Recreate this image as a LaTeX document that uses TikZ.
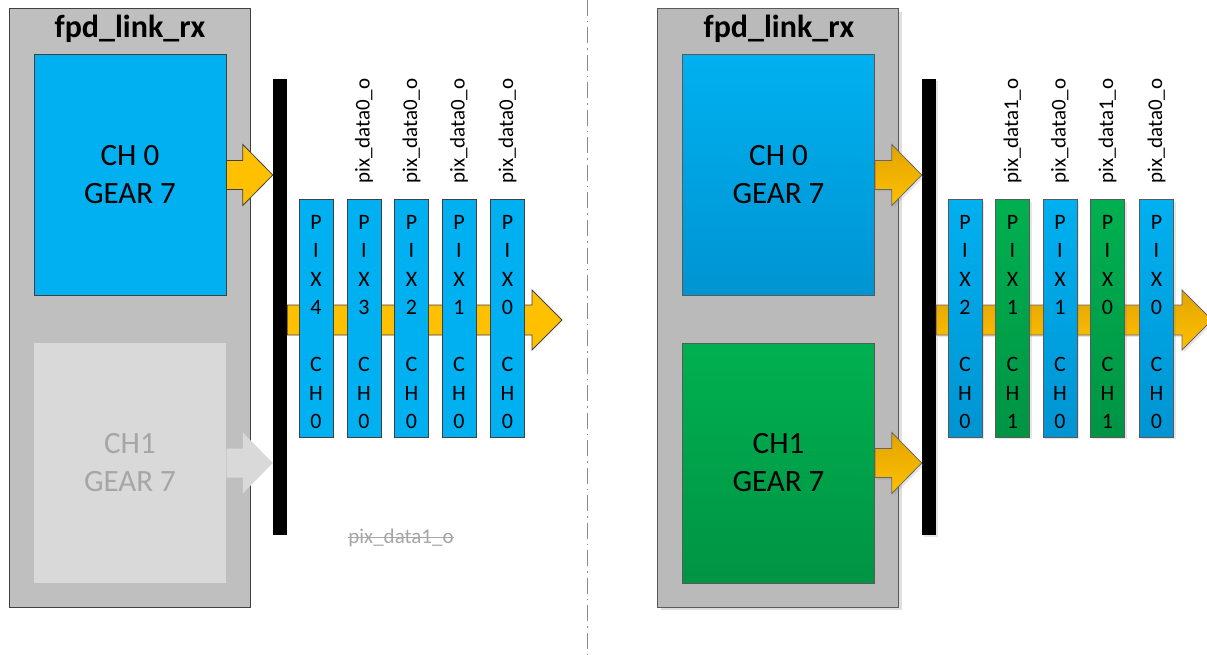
\documentclass[tikz,border=0pt]{standalone}
\usepackage{fontspec}
\setmainfont{Carlito}
\usetikzlibrary{calc,shadows}
\definecolor{boxgray}{HTML}{BFBFBF}
\definecolor{boxgrayR}{HTML}{BABABA}
\definecolor{cblue}{HTML}{00B0F0}
\definecolor{cblueD}{HTML}{0094D2}
\definecolor{cgreen}{HTML}{00B050}
\definecolor{cgreenD}{HTML}{009444}
\definecolor{cyel}{HTML}{FFC000}
\definecolor{cyelD}{HTML}{E2A400}
\definecolor{ghost}{HTML}{D9D9D9}
\definecolor{ghosttxt}{HTML}{A6A6A6}
\definecolor{edge}{HTML}{404040}
\definecolor{sep}{HTML}{8C8C8C}
% #1 start, #2 tip, #3 style, #4 shaft half, #5 head half, #6 head length
\newcommand\blockarrow[6]{%
  \path[#3] ($(#1)+(0,-#4)$) -- ($(#2)+(-#6,-#4)$) -- ($(#2)+(-#6,-#5)$) -- (#2)
    -- ($(#2)+(-#6,#5)$) -- ($(#2)+(-#6,#4)$) -- ($(#1)+(0,#4)$) -- cycle;}
% #1 name, #2 x, #3 style, #4 pix number, #5 channel
\newcommand\pixbox[5]{%
  \node[#3] (#1) at (#2,318.5) {};
  \node[pixtxt] (#1t) at (#2,322) {P\\I\\X\\#4\\[28.5pt]C\\H\\#5};}
\begin{document}
\begin{tikzpicture}[x=1pt,y=-1pt,
  outerbox/.style={draw=edge, line width=1pt, fill=boxgray, minimum width=241pt, minimum height=598pt, inner sep=0pt},
  outerboxR/.style={outerbox, draw=black!65, fill=boxgrayR, drop shadow={shadow xshift=3pt, shadow yshift=-3pt, opacity=0.25}},
  title/.style={font=\bfseries\fontsize{32}{38}\selectfont, inner sep=0pt},
  chbox/.style={draw=edge, line width=1pt, minimum width=192pt, minimum height=240pt, inner sep=0pt, align=center, font=\fontsize{31}{38}\selectfont},
  pixL/.style={draw=edge, line width=1pt, fill=cblue, minimum width=34pt, minimum height=237pt, inner sep=0pt},
  pixBR/.style={draw=black!65, line width=1pt, top color=cblue, bottom color=cblueD, minimum width=34pt, minimum height=237pt, inner sep=0pt, drop shadow={shadow xshift=2pt, shadow yshift=-2pt, opacity=0.2}},
  pixGR/.style={pixBR, top color=cgreen, bottom color=cgreenD},
  pixtxt/.style={align=center, inner sep=0pt, font=\fontsize{22}{28.5}\selectfont},
  lbl/.style={rotate=90, anchor=west, inner sep=0pt, font=\fontsize{21}{25}\selectfont},
  barbox/.style={fill=black, minimum width=14pt, minimum height=456pt, inner sep=0pt},
  yarrow/.style={fill=cyel, draw=edge, line width=0.8pt},
  yarrowR/.style={top color=cyelD, bottom color=cyel, draw=black!60, line width=0.8pt, drop shadow={shadow xshift=2pt, shadow yshift=-2pt, opacity=0.2}},
  garrow/.style={fill=ghost},
  sepline/.style={draw=sep, line width=1pt, dash pattern=on 16pt off 5pt on 1.5pt off 5pt}
]
\useasboundingbox (0,0) rectangle (1207,655);

% ---------- separator ----------
\coordinate (s1) at (587,0);
\coordinate (s2) at (587,655);
\draw[sepline] (s1) -- (s2);

% ---------- left panel ----------
\node[outerbox] (L) at (129.5,308) {};
\node[title] (Lt) at (130,29) {fpd\_link\_rx};
\node[chbox, fill=cblue] (L0) at (130,175) {CH 0\\GEAR 7};
\node[chbox, draw=none, fill=ghost, text=ghosttxt] (L1) at (130,463) {CH1\\GEAR 7};
\node[barbox] (Lb) at (280,307) {};
\blockarrow{L0.east}{Lb.west |- L0.east}{yarrow}{14.5}{30.5}{30}
\blockarrow{L1.east}{Lb.west |- L1.east}{garrow}{14.5}{30.5}{30}
\coordinate (hL) at (562,320);
\blockarrow{Lb.east |- hL}{hL}{yarrow}{15}{30}{30}
\pixbox{pL1}{316}{pixL}{4}{0}
\pixbox{pL2}{364}{pixL}{3}{0}
\pixbox{pL3}{411.5}{pixL}{2}{0}
\pixbox{pL4}{459}{pixL}{1}{0}
\pixbox{pL5}{507.5}{pixL}{0}{0}
\node[lbl] (lL2) at (364,184) {pix\_data0\_o};
\node[lbl] (lL3) at (411.5,184) {pix\_data0\_o};
\node[lbl] (lL4) at (459,184) {pix\_data0\_o};
\node[lbl] (lL5) at (507.5,184) {pix\_data0\_o};
\node[inner sep=0pt, text=ghosttxt, font=\fontsize{21}{25}\selectfont] (gs) at (401,538) {pix\_data1\_o};
\draw[ghosttxt, line width=0.9pt] ($(gs.west)+(0,-1)$) -- ($(gs.east)+(0,-1)$);

% ---------- right panel ----------
\node[outerboxR] (R) at (778,308) {};
\node[title] (Rt) at (779,29) {fpd\_link\_rx};
\node[chbox, draw=black!65, top color=cblue, bottom color=cblueD] (R0) at (778.5,175) {CH 0\\GEAR 7};
\node[chbox, draw=black!65, top color=cgreen, bottom color=cgreenD] (R1) at (778.5,463) {CH1\\GEAR 7};
\node[barbox, drop shadow={shadow xshift=2pt, shadow yshift=-2pt, opacity=0.2}] (Rb) at (929,307) {};
\blockarrow{R0.east}{Rb.west |- R0.east}{yarrowR}{14.5}{30.5}{30}
\blockarrow{R1.east}{Rb.west |- R1.east}{yarrowR}{14.5}{30.5}{30}
\coordinate (hR) at (1212,320);
\blockarrow{Rb.east |- hR}{hR}{yarrowR}{15}{30}{30}
\pixbox{pR1}{965}{pixBR}{2}{0}
\pixbox{pR2}{1012.5}{pixGR}{1}{1}
\pixbox{pR3}{1060}{pixBR}{1}{0}
\pixbox{pR4}{1107.5}{pixGR}{0}{1}
\pixbox{pR5}{1156.5}{pixBR}{0}{0}
\node[lbl] (lR2) at (1012.5,184) {pix\_data1\_o};
\node[lbl] (lR3) at (1060,184) {pix\_data0\_o};
\node[lbl] (lR4) at (1107.5,184) {pix\_data1\_o};
\node[lbl] (lR5) at (1156.5,184) {pix\_data0\_o};
\end{tikzpicture}
\end{document}
